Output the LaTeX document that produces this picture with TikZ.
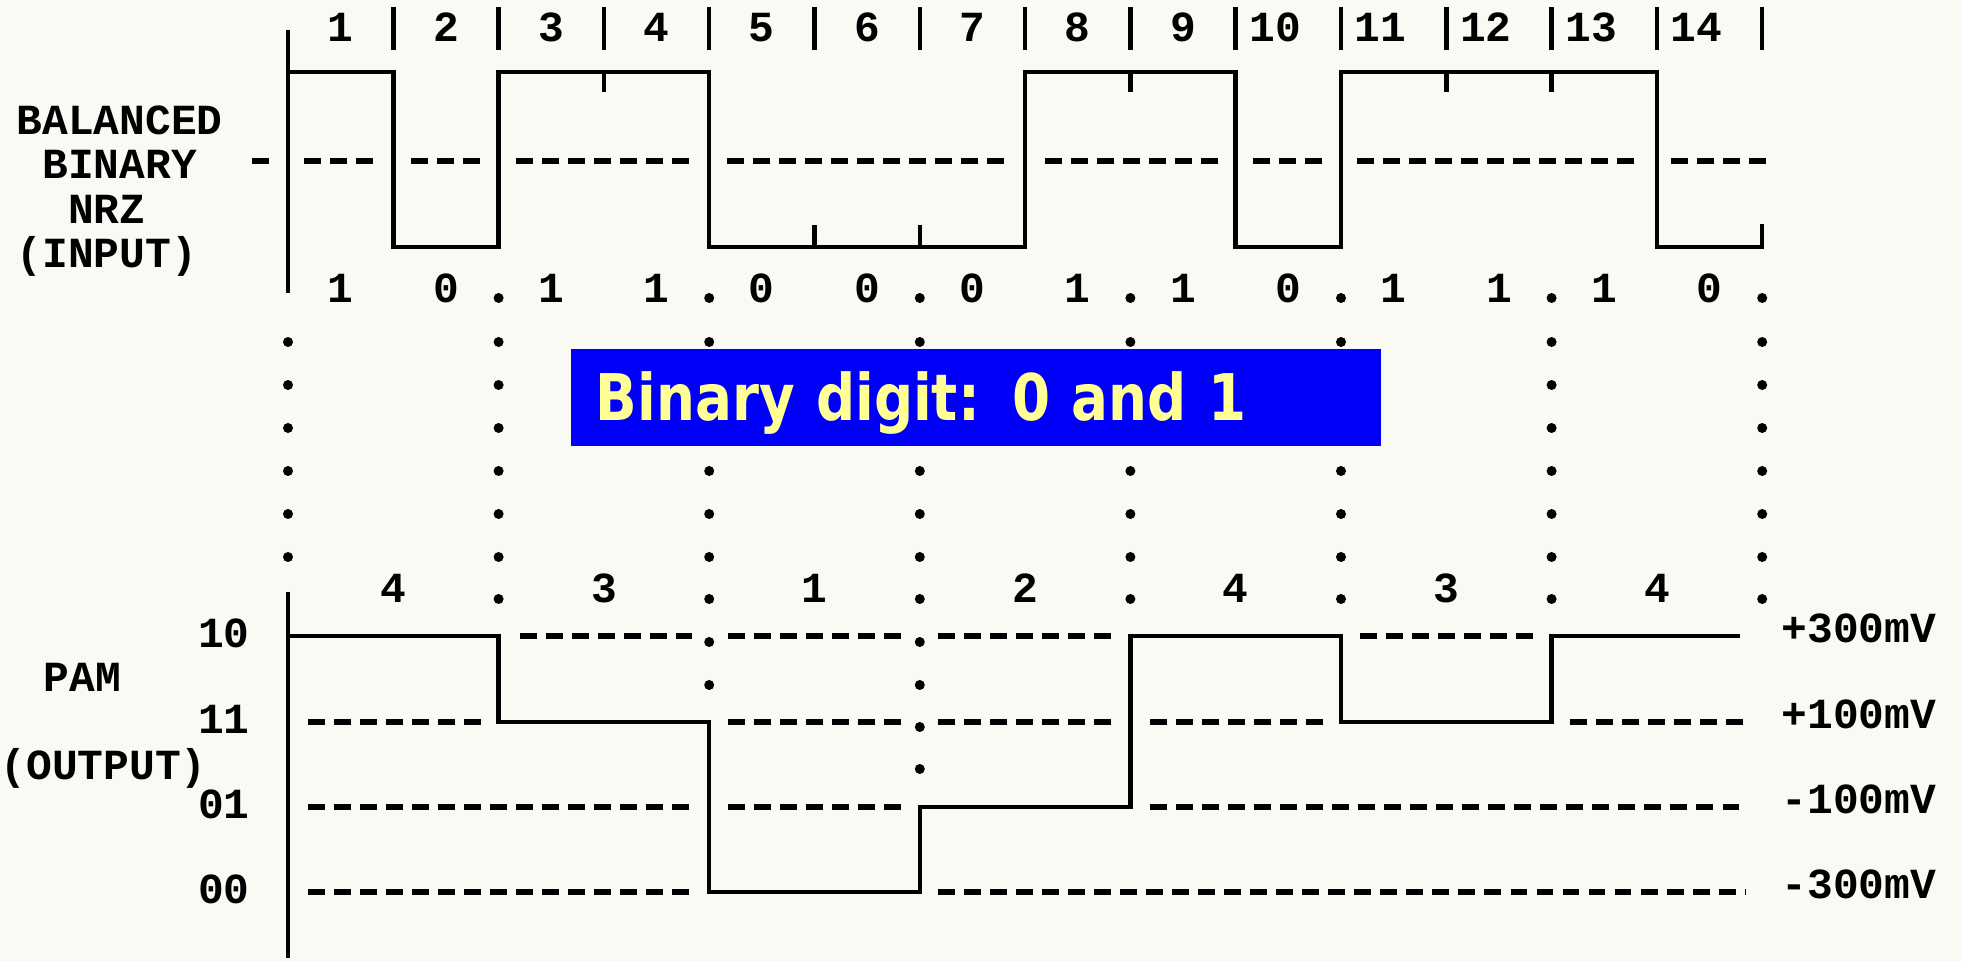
\documentclass[tikz,border=0pt]{standalone}
\usepackage{fontspec}
\newfontfamily\typefont{Liberation Mono}
\newfontfamily\notefont{DejaVu Sans}[FakeStretch=0.85]
\definecolor{paper}{RGB}{250,250,244}
\definecolor{noteblue}{RGB}{0,0,250}
\definecolor{noteyellow}{RGB}{255,255,150}
\tikzset{
    wave/.style = {draw, line width=1.3pt},
    guide/.style = {draw, line width=1.6pt, dash pattern=on 4.8pt off 2.6pt},
    lbl/.style = {inner sep=0pt, font=\typefont\bfseries\fontsize{12.2}{12.6}\selectfont},
    dotmark/.style = {fill, radius=0.5mm},
    notebox/.style = {fill=noteblue, text=noteyellow, anchor=north west, align=left,
        text width=7.6cm, inner xsep=0.25cm, inner ysep=0pt, minimum height=0.97cm,
        text height=0.47cm, text depth=0pt,
        font=\notefont\bfseries\fontsize{18.3}{20}\selectfont}
}
\newcommand{\bitw}{105.3}
\newcommand{\symw}{210.6}

\begin{document}
\begin{tikzpicture}[x=0.01cm, y=-0.01cm]
        \fill[paper] (0,0) rectangle (1962,961);
        \useasboundingbox (0,0) rectangle (1962,961);
        \node[lbl, align=left, anchor=north west] (nrz) at (16,105) {BALANCED\\\hphantom{B}BINARY\\\hphantom{BA}NRZ\\(INPUT)};
        \foreach \k in {1,...,14}
            \draw[wave] ({288+\k*\bitw},7) -- ({288+\k*\bitw},50);
        \foreach \k in {1,...,14}
            \node[lbl, anchor=base] (n\k) at ({288+(\k-0.5)*\bitw-13*(\k>9)},42) {\k};
        \draw[wave] (288,30) -- (288,293);
        \draw[wave] (288,72) -| (393.3,247) -| (498.6,72) -| (709.2,247) -| (1025.1,72) -| (1235.7,247) -| (1341,72) -| (1656.9,247) -| (1762.2,224);
        \foreach \k in {3,8,11,12}
            \draw[wave] ({288+\k*\bitw},72) -- ++(0,20);
        \foreach \k in {5,6}
            \draw[wave] ({288+\k*\bitw},247) -- ++(0,-22);
        \foreach \a/\b in {252/270,304/379,411/484,516/697,727/1012,1045/1219,1253/1324,1357/1638,1671/1773}
            \draw[guide] (\a,161) -- (\b,161);
        \foreach \v [count=\k] in {1,0,1,1,0,0,0,1,1,0,1,1,1,0}
            \node[lbl, anchor=base] (b\k) at ({288+(\k-0.5)*\bitw},303) {\v};
        \foreach \s in {0,...,7}
            \foreach \y in {342,385,428,471,514,557}
                \fill[dotmark] ({288+\s*\symw},\y) circle;
        \foreach \s in {1,...,7} {
            \fill[dotmark] ({288+\s*\symw},298) circle;
            \fill[dotmark] ({288+\s*\symw},599) circle;
        }
        \foreach \y in {642,685}
            \fill[dotmark] (709.2,\y) circle;
        \foreach \y in {642,685,727,769}
            \fill[dotmark] (919.8,\y) circle;
        \node[notebox] (note) at (570,348) {Binary digit: 0 and 1};
        \node[lbl, anchor=base west] (pam) at (43,692) {PAM};
        \node[lbl, anchor=base west] (pamout) at (0,780) {(OUTPUT)};
        \draw[wave] (288,592) -- (288,958);
        \foreach \v [count=\s] in {4,3,1,2,4,3,4}
            \node[lbl, anchor=base] (s\s) at ({288+(\s-0.5)*\symw},603) {\v};
        \draw[wave] (288,636) -| (498.6,722) -| (709.2,892) -| (919.8,807) -| (1130.4,636) -| (1341,722) -| (1551.6,636) -- (1740,636);
        \foreach \a/\b/\y in {520/692/636,728/902/636,938/1112/636,1360/1534/636,
                308/482/722,728/902/722,938/1112/722,1150/1324/722,1570/1745/722,
                308/692/807,728/902/807,1150/1745/807,308/692/892,938/1745/892}
            \draw[guide] (\a,\y) -- (\b,\y);
        \foreach \c/\y/\mv in {10/636/+300mV,11/722/+100mV,01/807/-100mV,00/892/-300mV} {
            \node[lbl, anchor=base] (c\c) at (224,\y+12) {\c};
            \node[lbl, anchor=base west] (v\c) at (1781,\y+7) {\mv};
        }
\end{tikzpicture}
\end{document}
